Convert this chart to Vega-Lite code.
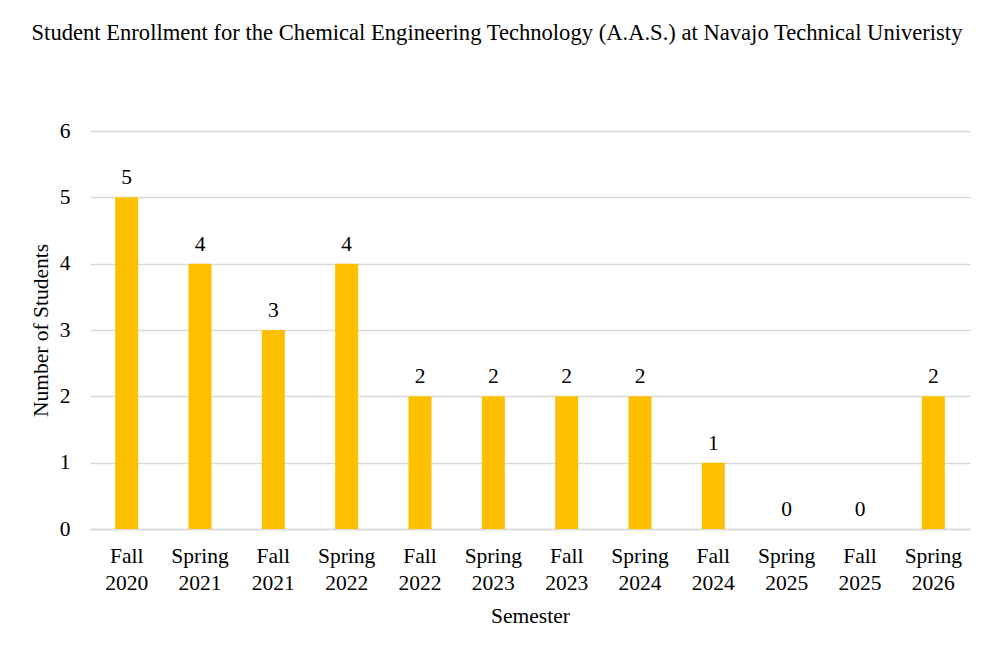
{
  "$schema": "https://vega.github.io/schema/vega-lite/v6.json",
  "width": 880,
  "height": 398,
  "autosize": {"type": "none"},
  "padding": {"left": 90, "top": 131, "right": 24, "bottom": 126},
  "background": "white",
  "title": {
    "text": "Student Enrollment for the Chemical Engineering Technology (A.A.S.) at Navajo Technical Univeristy",
    "font": "Liberation Serif",
    "fontSize": 22.6,
    "fontWeight": "normal",
    "color": "#000000",
    "anchor": "middle",
    "frame": "group",
    "dx": -33,
    "offset": 75
  },
  "data": {
    "values": [
      {"semester": "Fall 2020", "students": 5},
      {"semester": "Spring 2021", "students": 4},
      {"semester": "Fall 2021", "students": 3},
      {"semester": "Spring 2022", "students": 4},
      {"semester": "Fall 2022", "students": 2},
      {"semester": "Spring 2023", "students": 2},
      {"semester": "Fall 2023", "students": 2},
      {"semester": "Spring 2024", "students": 2},
      {"semester": "Fall 2024", "students": 1},
      {"semester": "Spring 2025", "students": 0},
      {"semester": "Fall 2025", "students": 0},
      {"semester": "Spring 2026", "students": 2}
    ]
  },
  "encoding": {
    "x": {
      "field": "semester",
      "type": "nominal",
      "sort": null,
      "scale": {"paddingInner": 0.686, "paddingOuter": 0.343},
      "axis": {
        "title": "Semester",
        "labelAngle": 0,
        "labelExpr": "split(datum.label, ' ')",
        "labelLineHeight": 27,
        "labelPadding": 16,
        "ticks": false,
        "domainColor": "#d9d9d9",
        "domainWidth": 1.5,
        "titlePadding": 12
      }
    },
    "y": {
      "field": "students",
      "type": "quantitative",
      "scale": {"domain": [0, 6]},
      "axis": {
        "title": "Number of Students",
        "values": [0, 1, 2, 3, 4, 5, 6],
        "labelOverlap": false,
        "domain": false,
        "ticks": false,
        "labelPadding": 20,
        "titlePadding": 7,
        "gridColor": "#d9d9d9",
        "gridWidth": 1.5
      }
    }
  },
  "layer": [
    {"mark": {"type": "bar", "color": "#FFC000"}},
    {
      "mark": {"type": "text", "baseline": "alphabetic", "dy": -13, "font": "Liberation Serif", "fontSize": 21.5, "color": "#000000"},
      "encoding": {"text": {"field": "students", "type": "quantitative"}}
    }
  ],
  "config": {
    "view": {"stroke": null},
    "axis": {
      "labelFont": "Liberation Serif",
      "labelFontSize": 21.5,
      "labelColor": "#000000",
      "titleFont": "Liberation Serif",
      "titleFontSize": 21.5,
      "titleFontWeight": "normal",
      "titleColor": "#000000"
    }
  }
}
